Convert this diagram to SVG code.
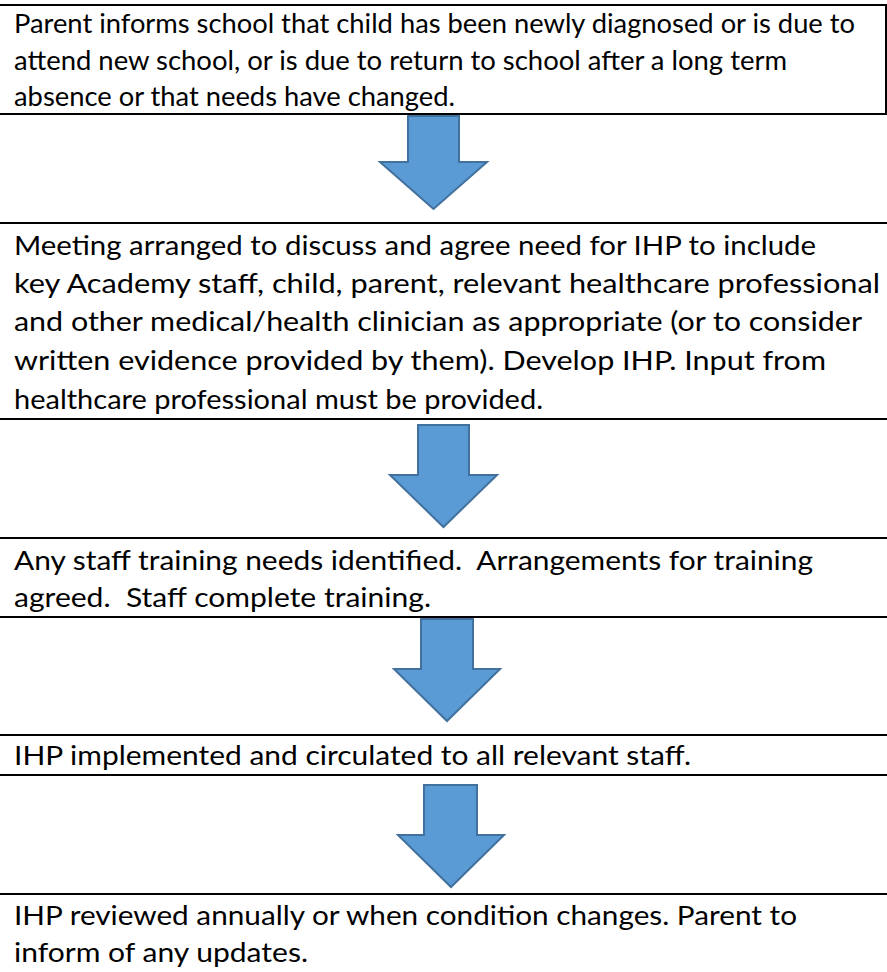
<svg xmlns="http://www.w3.org/2000/svg" width="887" height="972" viewBox="0 0 887 972">
<style>
.bg{fill:#ffffff}
.rule{stroke:#000000;stroke-width:2;fill:none}
.t{font-family:Lato,"Open Sans","Liberation Sans",sans-serif;font-size:27.5px;fill:#000000}
.arrow{fill:#5B9BD5;stroke:#41719C;stroke-width:2;stroke-linejoin:miter}
</style>
<rect class="bg" x="0" y="0" width="887" height="972"/>
<g id="box1">
<line class="rule" x1="0" y1="5" x2="887" y2="5"/>
<line class="rule" x1="0" y1="114" x2="887" y2="114"/>
<line class="rule" x1="886" y1="5" x2="886" y2="114"/>
<text class="t" x="14" y="33" textLength="841" lengthAdjust="spacingAndGlyphs">Parent informs school that child has been newly diagnosed or is due to</text>
<text class="t" x="14" y="69.5" textLength="773" lengthAdjust="spacingAndGlyphs">attend new school, or is due to return to school after a long term</text>
<text class="t" x="14" y="106" textLength="441" lengthAdjust="spacingAndGlyphs">absence or that needs have changed.</text>
</g>
<g id="box2">
<line class="rule" x1="0" y1="223" x2="887" y2="223"/>
<line class="rule" x1="0" y1="419" x2="887" y2="419"/>
<text class="t" x="14" y="255" textLength="802" lengthAdjust="spacingAndGlyphs">Meeting arranged to discuss and agree need for IHP to include</text>
<text class="t" x="14" y="293" textLength="866" lengthAdjust="spacingAndGlyphs">key Academy staff, child, parent, relevant healthcare professional</text>
<text class="t" x="14" y="331" textLength="848" lengthAdjust="spacingAndGlyphs">and other medical/health clinician as appropriate (or to consider</text>
<text class="t" x="14" y="370" textLength="812" lengthAdjust="spacingAndGlyphs">written evidence provided by them). Develop IHP. Input from</text>
<text class="t" x="14" y="409" textLength="529" lengthAdjust="spacingAndGlyphs">healthcare professional must be provided.</text>
</g>
<g id="box3">
<line class="rule" x1="0" y1="538" x2="887" y2="538"/>
<line class="rule" x1="0" y1="617" x2="887" y2="617"/>
<text class="t" x="14" y="570" xml:space="preserve" textLength="799" lengthAdjust="spacingAndGlyphs">Any staff training needs identified.  Arrangements for training</text>
<text class="t" x="14" y="607" xml:space="preserve" textLength="417" lengthAdjust="spacingAndGlyphs">agreed.  Staff complete training.</text>
</g>
<g id="box4">
<line class="rule" x1="0" y1="735" x2="887" y2="735"/>
<line class="rule" x1="0" y1="775" x2="887" y2="775"/>
<text class="t" x="14" y="765" textLength="677" lengthAdjust="spacingAndGlyphs">IHP implemented and circulated to all relevant staff.</text>
</g>
<g id="box5">
<line class="rule" x1="0" y1="894" x2="887" y2="894"/>
<text class="t" x="14" y="925" textLength="783" lengthAdjust="spacingAndGlyphs">IHP reviewed annually or when condition changes. Parent to</text>
<text class="t" x="14" y="962" textLength="294" lengthAdjust="spacingAndGlyphs">inform of any updates.</text>
</g>
<g id="connectors">
<path class="arrow" d="M408,116 H459 V162 H487 L433.5,209 L380,162 H408 Z"/>
<path class="arrow" d="M418,425 H469 V475 H497 L443.5,527 L390,475 H418 Z"/>
<path class="arrow" d="M421,619 H473 V669 H500 L447,721 L394,669 H421 Z"/>
<path class="arrow" d="M424,785 H477 V835 H504 L451,887 L398,835 H424 Z"/>
</g>
</svg>
